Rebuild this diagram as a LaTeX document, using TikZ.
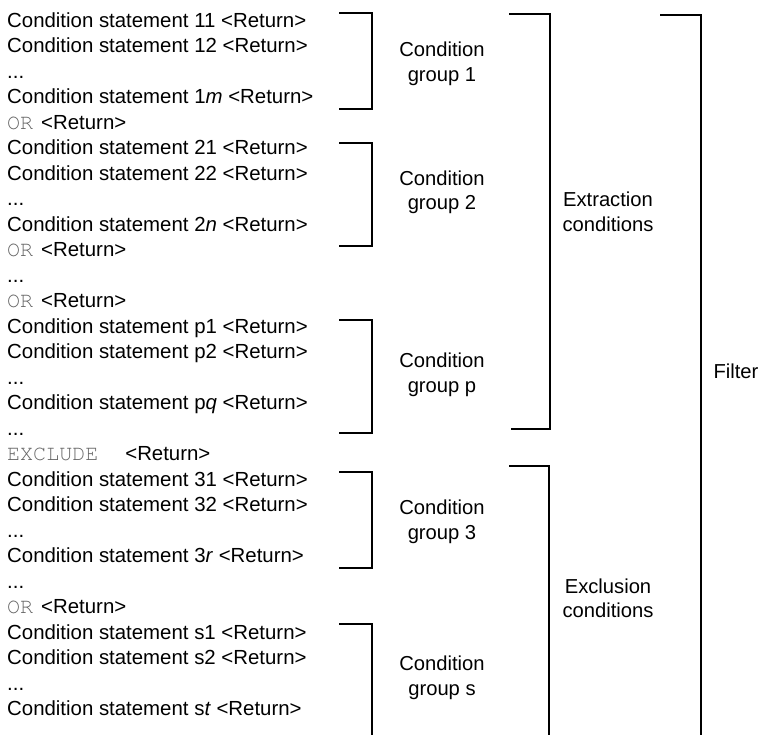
\documentclass[tikz,border=0pt]{standalone}
\usepackage{fontspec}
\setmainfont{Liberation Sans}
\newfontfamily\codefont{TeX Gyre Cursor}
\definecolor{codegray}{gray}{0.4}
% keyword in the filter syntax (OR, EXCLUDE)
\newcommand{\kw}[1]{{\codefont\fontsize{21.7}{25.5}\selectfont\color{codegray}#1}}
\begin{document}
\begin{tikzpicture}[x=1pt,y=-1pt,
  stmt/.style={anchor=base west,inner sep=0pt,font=\fontsize{20.4}{25.5}\selectfont},
  lbl/.style={align=center,inner sep=0pt,font=\fontsize{20.2}{24.5}\selectfont},
  brk/.style={line width=1.8pt,line join=miter}]
\useasboundingbox (0,0) rectangle (759,734);

% filter statement lines
\node[stmt] (l1)  at (7,27)    {Condition statement 11 <Return>};
\node[stmt] (l2)  at (7,52.5)  {Condition statement 12 <Return>};
\node[stmt] (l3)  at (7,78)    {...};
\node[stmt] (l4)  at (7,103.5) {Condition statement 1\textit{m} <Return>};
\node[stmt] (l5)  at (7,129)   {\kw{OR}\hspace{8pt}<Return>};
\node[stmt] (l6)  at (7,154.5) {Condition statement 21 <Return>};
\node[stmt] (l7)  at (7,180)   {Condition statement 22 <Return>};
\node[stmt] (l8)  at (7,205.5) {...};
\node[stmt] (l9)  at (7,231)   {Condition statement 2\textit{n} <Return>};
\node[stmt] (l10) at (7,256.5) {\kw{OR}\hspace{8pt}<Return>};
\node[stmt] (l11) at (7,282)   {...};
\node[stmt] (l12) at (7,307.5) {\kw{OR}\hspace{8pt}<Return>};
\node[stmt] (l13) at (7,333)   {Condition statement p1 <Return>};
\node[stmt] (l14) at (7,358.5) {Condition statement p2 <Return>};
\node[stmt] (l15) at (7,384)   {...};
\node[stmt] (l16) at (7,409.5) {Condition statement p\textit{q} <Return>};
\node[stmt] (l17) at (7,435)   {...};
\node[stmt] (l18) at (7,460.5) {\kw{EXCLUDE}\hspace{27pt}<Return>};
\node[stmt] (l19) at (7,486)   {Condition statement 31 <Return>};
\node[stmt] (l20) at (7,511.5) {Condition statement 32 <Return>};
\node[stmt] (l21) at (7,537)   {...};
\node[stmt] (l22) at (7,562.5) {Condition statement 3\textit{r} <Return>};
\node[stmt] (l23) at (7,588)   {...};
\node[stmt] (l24) at (7,613.5) {\kw{OR}\hspace{8pt}<Return>};
\node[stmt] (l25) at (7,639)   {Condition statement s1 <Return>};
\node[stmt] (l26) at (7,664.5) {Condition statement s2 <Return>};
\node[stmt] (l27) at (7,690)   {...};
\node[stmt] (l28) at (7,715.5) {Condition statement s\textit{t} <Return>};

% condition group brackets
\draw[brk] (339,12.7)  -- (372,12.7)  -- (372,109)   -- (339,109);
\draw[brk] (339,143.3) -- (372,143.3) -- (372,246)   -- (339,246);
\draw[brk] (339,320)   -- (372,320)   -- (372,432.7) -- (339,432.7);
\draw[brk] (339,472.3) -- (372,472.3) -- (372,568.3) -- (339,568.3);
\draw[brk] (339,623.7) -- (372,623.7) -- (372,735);

% extraction / exclusion brackets
\draw[brk] (509,14)  -- (550,14)  -- (550,429.3) -- (511,429.3);
\draw[brk] (509,466) -- (549,466) -- (549,735);

% filter bracket
\draw[brk] (660,14.7) -- (701,14.7) -- (701,735);

% bracket labels
\node[lbl] (g1)   at (442,63.7)  {Condition\\group 1};
\node[lbl] (g2)   at (442,192.5) {Condition\\group 2};
\node[lbl] (gp)   at (442,375)   {Condition\\group p};
\node[lbl] (g3)   at (442,522)   {Condition\\group 3};
\node[lbl] (gs)   at (442,677.7) {Condition\\group s};
\node[lbl] (ext)  at (608,212)   {Extraction\\conditions};
\node[lbl] (exc)  at (608,598.5) {Exclusion\\conditions};
\node[lbl] (filt) at (736,371)   {Filter};
\end{tikzpicture}
\end{document}
